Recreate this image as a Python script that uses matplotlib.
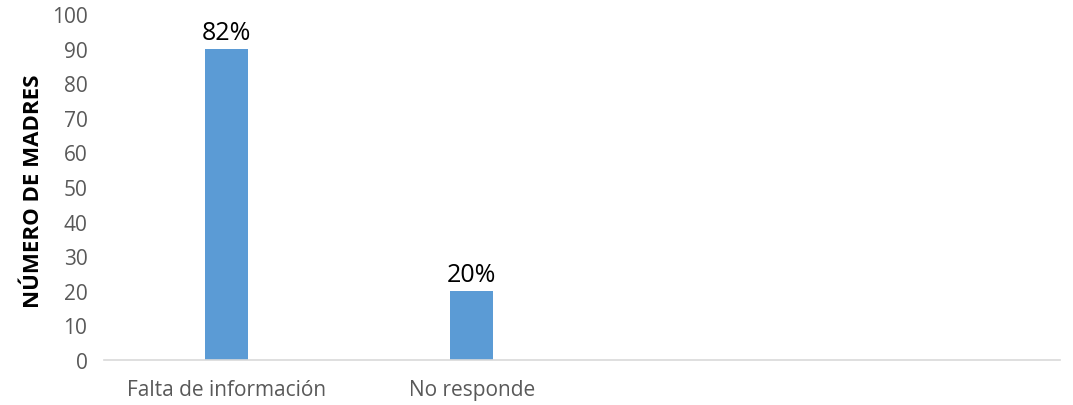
import matplotlib
matplotlib.use("Agg")
import matplotlib.pyplot as plt

categories = ["Falta de información", "No responde", "", ""]
values = [90, 20]
pct_labels = ["82%", "20%"]

plt.rcParams["font.family"] = ["Open Sans", "DejaVu Sans"]

fig = plt.figure(figsize=(10.73, 4.06), dpi=100)
ax = fig.add_axes([0.097, 0.111, 0.891, 0.852])

x = list(range(len(values)))
bars = ax.bar(x, values, width=0.175, color="#5b9bd5", zorder=2)
for b, lab in zip(bars, pct_labels):
    ax.text(b.get_x() + b.get_width() / 2, b.get_height() + 1.0, lab,
            ha="center", va="bottom", fontsize=18, color="black")

ax.set_xlim(-0.5, 3.4)
ax.set_ylim(0, 100)
ax.set_yticks(range(0, 101, 10))
ax.set_xticks(range(len(categories)))
ax.set_xticklabels(categories)
ax.tick_params(axis="both", length=0, labelsize=15, colors="#595959")
ax.tick_params(axis="y", pad=12)
ax.tick_params(axis="x", pad=14)

for side in ["top", "right", "left"]:
    ax.spines[side].set_visible(False)
ax.spines["bottom"].set_color("#d9d9d9")
ax.spines["bottom"].set_linewidth(1.2)

ax.set_ylabel("NÚMERO DE MADRES", fontsize=16, fontweight="bold", color="black")
ax.yaxis.set_label_coords(-0.063, 0.49)

fig.savefig("out.png", dpi=100)
